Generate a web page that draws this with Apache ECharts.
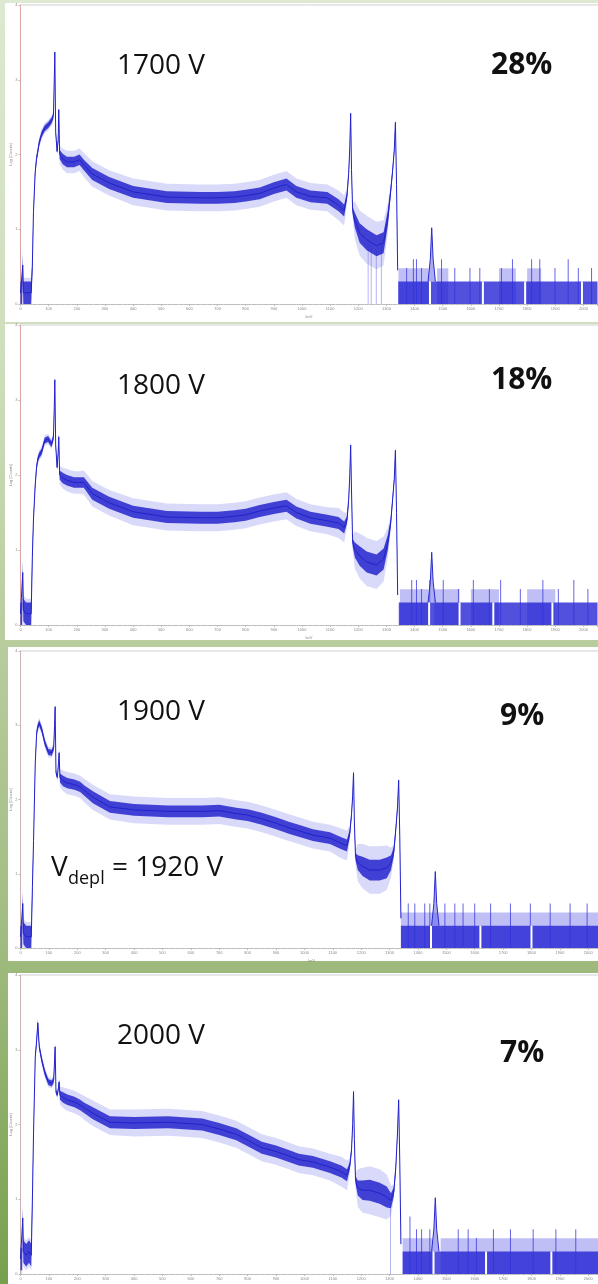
<!DOCTYPE html>
<html>
<head>
<meta charset="utf-8">
<script src="https://cdn.jsdelivr.net/npm/echarts@6.0.0/dist/echarts.min.js"></script>
<style>
  html, body { margin: 0; padding: 0; }
  body { background: linear-gradient(to bottom, #dde9d0 0%, #cddcb9 30%, #b6cb9b 52%, #a2bd82 72%, #77a04d 100%); }
  #chart { width: 598px; height: 1284px; }
</style>
</head>
<body>
<div id="chart"></div>
<script>
// energy grid (keV) for the main part of every spectrum
var G = [0,6,8,10,20,30,38,42, 46,52,57,61,66,75,86,98, 110,117,120,122,125,130,134,136,
  139,150,165,190,210,225,255,315, 400,520,640,700,760,800,850,900,
  945,980,1030,1090,1130,1150,1160,1166, 1170,1173,1176,1180,1188,1205,1230,1265,
  1290,1305,1315,1322,1328,1332,1336,1340];

// noise half-width of the band (decades), dense core and light fringe
var DENSE = [0.15,0.15,0.15,0.15,0.15,0.15,0.15,0.08, 0.04,0.04,0.04,0.04,0.04,0.04,0.04,0.04,
  0.04,0.04,0.03,0.03,0.03,0.03,0.03,0.03, 0.06,0.07,0.07,0.07,0.07,0.07,0.08,0.08,
  0.08,0.08,0.08,0.08,0.08,0.08,0.08,0.08, 0.08,0.08,0.08,0.08,0.08,0.08,0.05,0.04,
  0.03,0.03,0.03,0.05,0.1,0.13,0.14,0.14, 0.14,0.1,0.06,0.04,0.03,0.03,0.03,0.05];
var LOOSE = [0.2,0.2,0.2,0.2,0.2,0.2,0.2,0.12, 0.07,0.07,0.07,0.07,0.07,0.07,0.07,0.07,
  0.07,0.07,0.05,0.05,0.05,0.05,0.05,0.05, 0.12,0.14,0.15,0.15,0.15,0.16,0.17,0.17,
  0.18,0.18,0.18,0.18,0.18,0.18,0.18,0.18, 0.18,0.18,0.18,0.18,0.2,0.2,0.1,0.07,
  0.05,0.05,0.05,0.1,0.25,0.3,0.32,0.32, 0.3,0.2,0.1,0.07,0.05,0.05,0.05,0.08];

// log10(counts)
var P1700 = [0.15,0.15,0.52,0.15,0.15,0.15,0.15,0.5, 1.22,1.75,1.95,2.03,2.15,2.27,2.35,2.39,
  2.45,2.52,3.0,3.37,2.3,2.04,2.2,2.6, 2.0,1.94,1.9,1.9,1.93,1.86,1.74,1.62,
  1.5,1.43,1.42,1.42,1.43,1.45,1.48,1.55, 1.6,1.5,1.44,1.42,1.32,1.25,1.45,1.75,
  2.1,2.55,1.8,1.25,1.12,0.95,0.86,0.78, 0.82,1.15,1.5,1.78,2.06,2.43,1.6,0.45];
var P1800 = [0.15,0.15,0.7,0.2,0.15,0.15,0.15,0.9, 1.4,1.85,2.1,2.2,2.26,2.31,2.46,2.48,
  2.41,2.5,2.9,3.27,2.4,2.1,2.3,2.51, 2.0,1.96,1.93,1.9,1.9,1.9,1.75,1.63,
  1.51,1.44,1.43,1.43,1.45,1.47,1.52,1.56, 1.59,1.5,1.43,1.39,1.36,1.3,1.4,1.67,
  2.0,2.4,1.8,1.1,1.0,0.92,0.84,0.8, 0.88,1.1,1.35,1.67,1.95,2.33,1.5,0.4];
var P1900 = [0.15,0.15,0.6,0.2,0.15,0.15,0.15,0.83, 1.45,2.49,2.9,2.98,3.03,2.94,2.76,2.64,
  2.63,2.7,3.0,3.25,2.36,2.3,2.5,2.63, 2.29,2.25,2.22,2.2,2.17,2.12,2.03,1.9,
  1.86,1.84,1.84,1.85,1.81,1.79,1.74,1.68, 1.62,1.58,1.52,1.48,1.41,1.38,1.55,1.8,
  2.05,2.36,1.7,1.23,1.15,1.1,1.05,1.05, 1.08,1.15,1.3,1.6,1.9,2.26,1.5,0.4];
var P2000 = [0.2,0.2,0.75,0.3,0.25,0.3,0.25,1.03, 1.9,2.9,3.13,3.36,3.04,2.86,2.69,2.57,
  2.55,2.6,2.85,3.04,2.43,2.4,2.5,2.57, 2.39,2.36,2.33,2.3,2.26,2.22,2.15,2.03,
  2.02,2.03,2.0,1.94,1.87,1.79,1.69,1.64, 1.58,1.53,1.5,1.43,1.37,1.32,1.45,1.66,
  2.0,2.44,1.8,1.26,1.15,1.12,1.12,1.08, 1.03,0.98,1.1,1.43,1.9,2.33,1.5,0.4];

// high-energy tail: counts of 2, 3 per channel
var LV2 = 0.301, LV3 = 0.477;
var TAIL_START = [1342, 1344, 1340, 1346];
var TAIL_END = 2050;
var K40_1 = [[1448,0.3],[1456,0.6],[1461,1.02],[1466,0.6],[1474,0.3]];
var K40_2 = [[1448,0.3],[1456,0.58],[1461,0.97],[1466,0.58],[1474,0.3]];
var K40_3 = [[1448,0.3],[1456,0.6],[1461,1.03],[1466,0.6],[1474,0.3]];
var K40_4 = [[1448,0.3],[1456,0.6],[1461,1.02],[1466,0.6],[1474,0.3]];
var SPK1 = [[1366,0.48],[1390,0.6],[1401,0.6],[1419,0.48],[1490,0.6],[1537,0.48],[1591,0.48],[1626,0.48],
  [1703,0.48],[1742,0.6],[1810,0.6],[1839,0.6],[1893,0.48],[1940,0.6],[1976,0.48],[2023,0.48]];
var SPK2 = [[1384,0.6],[1401,0.6],[1419,0.48],[1448,0.6],[1496,0.6],[1550,0.48],[1603,0.6],[1660,0.48],
  [1700,0.6],[1770,0.48],[1850,0.6],[1905,0.48],[1960,0.6],[2010,0.48]];
var SPK3 = [[1360,0.6],[1383,0.6],[1418,0.6],[1436,0.6],[1489,0.6],[1524,0.6],[1553,0.6],[1594,0.6],
  [1650,0.6],[1720,0.6],[1790,0.6],[1860,0.6],[1930,0.6],[1990,0.6]];
var SPK4 = [[1366,0.77],[1389,0.6],[1407,0.6],[1436,0.6],[1536,0.6],[1571,0.6],[1600,0.48],[1660,0.6],
  [1720,0.6],[1800,0.6],[1880,0.6],[1950,0.6]];
var GAP1 = [1455, 1643, 1793, 1995];
var GAP2 = [1452, 1560, 1680, 1890];
var GAP3 = [1446, 1620, 1800];
var GAP4 = [1455, 1640, 1870];
var SHELF1 = [[1343,1450],[1480,1520],[1700,1760],[1800,1850]];
var SHELF2 = [[1348,1450],[1470,1560],[1600,1700],[1800,1900]];
var SHELF3 = [[1340,2050]];
var SHELF4 = [[1346,1450],[1480,2050]];
var DIP1 = [[1241,0.8],[1252,0.78],[1270,0.72],[1288,0.8]];
var DIP4 = [[1309,0.95]];

var VOLTS = ['1700 V', '1800 V', '1900 V', '2000 V'];
var FRACS = ['28%', '18%', '9%', '7%'];

var panels = [
  { mid: P1700, k40: K40_1, spk: SPK1, gap: GAP1, shelf: SHELF1, dip: DIP1,
    grid: { left: 20.5, top: 5, width: 577, height: 299 }, box: [5, 3, 593, 319], yCol: '#d9a3a3' },
  { mid: P1800, k40: K40_2, spk: SPK2, gap: GAP2, shelf: SHELF2, dip: [],
    grid: { left: 20.5, top: 325, width: 577, height: 300 }, box: [5, 324, 593, 316], yCol: '#d9a3a3' },
  { mid: P1900, k40: K40_3, spk: SPK3, gap: GAP3, shelf: SHELF3, dip: [],
    grid: { left: 20.5, top: 651, width: 582, height: 297 }, box: [8, 647, 590, 314], yCol: '#cdb2b2' },
  { mid: P2000, k40: K40_4, spk: SPK4, gap: GAP4, shelf: SHELF4, dip: DIP4,
    grid: { left: 20.5, top: 975, width: 582, height: 299 }, box: [8, 973, 590, 311], yCol: '#cdb2b2' }
];

var tiny = { fontSize: 4, color: '#8a8a8a', fontFamily: 'Liberation Sans' };
var plain = function (v) { return String(v); };
var grids = [], xAxes = [], yAxes = [], series = [], graphics = [];

// a filled polygon in data space, projected through the panel's axes
function polygon(i, pts, color, z) {
  return {
    type: 'custom', xAxisIndex: i, yAxisIndex: i, z: z, silent: true, clip: true,
    data: [[0, 0]],
    renderItem: function (params, api) {
      return { type: 'polygon', shape: { points: pts.map(function (q) { return api.coord(q); }) },
        style: { fill: color } };
    }
  };
}

panels.forEach(function (p, i) {
  var b = p.box;
  graphics.push({ type: 'rect', shape: { x: b[0], y: b[1], width: b[2], height: b[3] }, style: { fill: '#fff' }, z: -10 });
  graphics.push({ type: 'line', shape: { x1: p.grid.left, y1: p.grid.top, x2: 598, y2: p.grid.top }, style: { stroke: '#cfcfcf', lineWidth: 1 }, z: -5 });
  grids.push(Object.assign({ outerBoundsMode: 'none', containLabel: false }, p.grid));
  xAxes.push({
    type: 'value', gridIndex: i, min: 0, max: 2050, interval: 100,
    axisLine: { lineStyle: { color: '#bdbdbd' } },
    axisTick: { length: 2, lineStyle: { color: '#bdbdbd' } },
    minorTick: { show: true, splitNumber: 5, length: 1, lineStyle: { color: '#cfcfcf' } },
    axisLabel: Object.assign({ margin: 3, showMaxLabel: false, formatter: plain }, tiny),
    splitLine: { show: false },
    name: 'keV', nameLocation: 'middle', nameGap: 11, nameMoveOverlap: false, nameTextStyle: tiny
  });
  yAxes.push({
    type: 'value', gridIndex: i, min: 0, max: 4, interval: 1,
    axisLine: { show: true, lineStyle: { color: p.yCol } },
    axisTick: { show: true, length: 2, lineStyle: { color: '#bdbdbd' } },
    axisLabel: Object.assign({ margin: 3, formatter: plain }, tiny),
    splitLine: { show: false },
    name: 'Log [Counts]', nameLocation: 'middle', nameGap: 8, nameMoveOverlap: false, nameTextStyle: tiny
  });

  function band(w) {
    var hi = G.map(function (e, j) { return [e, p.mid[j] + w[j]]; });
    var lo = G.map(function (e, j) { return [e, Math.max(0, p.mid[j] - w[j])]; }).reverse();
    return hi.concat(lo);
  }
  series.push(polygon(i, band(LOOSE), 'rgba(120,120,238,0.28)', 2));
  series.push(polygon(i, band(DENSE), 'rgba(30,30,205,0.82)', 3));
  series.push({ type: 'line', xAxisIndex: i, yAxisIndex: i, symbol: 'none', z: 4, silent: true,
    data: G.map(function (e, j) { return [e, p.mid[j]]; }),
    lineStyle: { color: '#2222cc', width: 1 } });

  // valley dips reaching the baseline
  series.push({ type: 'bar', xAxisIndex: i, yAxisIndex: i, barWidth: 1, z: 1, silent: true,
    data: p.dip, itemStyle: { color: 'rgba(130,130,238,0.6)' } });

  // tail: shelf of 3-count channels, base of 2-count channels, gaps, spikes, K-40 line
  p.shelf.forEach(function (r) {
    series.push(polygon(i, [[r[0], 0], [r[0], LV3], [r[1], LV3], [r[1], 0]], 'rgba(95,95,232,0.4)', 2));
  });
  series.push(polygon(i, [[TAIL_START[i], 0], [TAIL_START[i], LV2], [TAIL_END, LV2], [TAIL_END, 0]],
    'rgba(32,32,212,0.78)', 3));
  series.push({ type: 'bar', xAxisIndex: i, yAxisIndex: i, barWidth: 2, z: 5, silent: true,
    data: p.gap.map(function (g) { return [g, LV2]; }), itemStyle: { color: '#ffffff' } });
  series.push({ type: 'bar', xAxisIndex: i, yAxisIndex: i, barWidth: 1, z: 4, silent: true,
    data: p.spk, itemStyle: { color: 'rgba(50,50,220,0.75)' } });
  series.push(polygon(i, p.k40, 'rgba(90,90,230,0.5)', 5));
  series.push({ type: 'line', xAxisIndex: i, yAxisIndex: i, symbol: 'none', z: 6, silent: true,
    data: p.k40, lineStyle: { color: '#2a2ad0', width: 1 } });
});

// slide annotations
var labelFont = '28px "Open Sans"';
var boldFont = 'bold 30px "Open Sans"';
var voltY = [66, 386, 712, 1036];
var fracPos = [[491, 65], [491, 380], [500, 716], [500, 1053]];
VOLTS.forEach(function (t, i) {
  graphics.push({ type: 'text', x: 117, y: voltY[i], style: { text: t, font: labelFont, fill: '#111', verticalAlign: 'middle' } });
  graphics.push({ type: 'text', x: fracPos[i][0], y: fracPos[i][1], style: { text: FRACS[i], font: boldFont, fill: '#111', verticalAlign: 'middle' } });
});
graphics.push({ type: 'text', x: 51, y: 868, style: { text: 'V', font: labelFont, fill: '#111', verticalAlign: 'middle' } });
graphics.push({ type: 'text', x: 68, y: 879, style: { text: 'depl', font: '18px "Open Sans"', fill: '#111', verticalAlign: 'middle' } });
graphics.push({ type: 'text', x: 112, y: 868, style: { text: '= 1920 V', font: labelFont, fill: '#111', verticalAlign: 'middle' } });

var chart = echarts.init(document.getElementById('chart'), null, { renderer: 'canvas' });
chart.setOption({
  animation: false,
  backgroundColor: 'transparent',
  graphic: graphics,
  grid: grids,
  xAxis: xAxes,
  yAxis: yAxes,
  series: series
});
window.addEventListener('resize', function () { chart.resize(); });
</script>
</body>
</html>
